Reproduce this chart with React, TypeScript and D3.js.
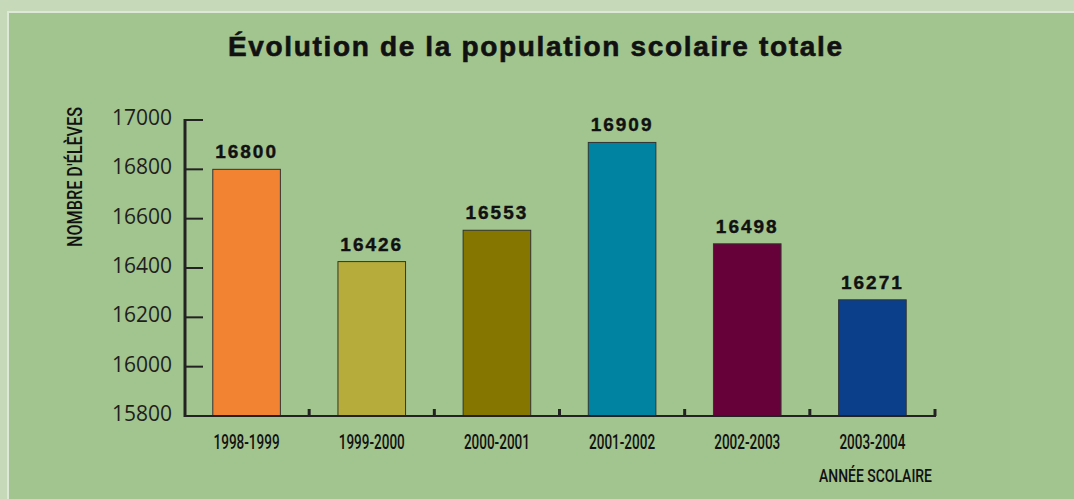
import React, { useEffect, useRef } from "react";
import * as d3 from "d3";

// data
const years = ["1998-1999", "1999-2000", "2000-2001", "2001-2002", "2002-2003", "2003-2004"];
const students = [16800, 16426, 16553, 16909, 16498, 16271];
const barColors = ["#f28332", "#b5ac3c", "#857600", "#0083a0", "#660239", "#0b3f8a"];
const yTicks = [15800, 16000, 16200, 16400, 16600, 16800, 17000];

const W = 1074;
const H = 499;
const condensed = "Roboto, sans-serif";

export default function App() {
  const ref = useRef<SVGSVGElement>(null);

  useEffect(() => {
    const svg = d3.select(ref.current);
    svg.selectAll("*").remove();

    // background with light frame
    svg.append("rect").attr("width", W).attr("height", H).attr("fill", "#c6d9b9");
    svg.append("rect").attr("x", 7).attr("y", 11).attr("width", W).attr("height", H)
      .attr("fill", "#dde9d6");
    svg.append("rect").attr("x", 9).attr("y", 13).attr("width", W).attr("height", H)
      .attr("fill", "#a2c48f");

    const left = 184;
    const right = 935;
    const top = 120;
    const bottom = 416;

    const x = d3.scaleBand().domain(years).range([left, right]).paddingInner(0.46).paddingOuter(0.23);
    const xEdges = d3.scaleLinear().domain([0, years.length]).range([left, right]);
    const y = d3.scaleLinear().domain([15800, 17000]).range([bottom, top]);

    svg.append("text")
      .attr("x", 228).attr("y", 56)
      .attr("font-family", "'Liberation Sans', Arial, sans-serif")
      .attr("font-weight", "bold")
      .attr("font-size", 28)
      .attr("textLength", 614)
      .attr("lengthAdjust", "spacing")
      .attr("stroke", "#111")
      .attr("stroke-width", 0.6)
      .attr("fill", "#111")
      .text("Évolution de la population scolaire totale");

    // bars
    const g = svg.append("g");
    g.selectAll("rect.bar").data(students).enter().append("rect")
      .attr("class", "bar")
      .attr("x", (d, i) => x(years[i])!)
      .attr("y", (d) => y(d))
      .attr("width", x.bandwidth())
      .attr("height", (d) => bottom - y(d))
      .attr("fill", (d, i) => barColors[i])
      .attr("stroke", "#333")
      .attr("stroke-width", 1);

    g.selectAll("text.val").data(students).enter().append("text")
      .attr("class", "val")
      .attr("x", (d, i) => x(years[i])! + x.bandwidth() / 2)
      .attr("y", (d) => y(d) - 11)
      .attr("text-anchor", "middle")
      .attr("font-family", "'Liberation Sans', Arial, sans-serif")
      .attr("font-weight", "bold")
      .attr("font-size", 19)
      .attr("letter-spacing", 2)
      .attr("stroke", "#111")
      .attr("stroke-width", 0.4)
      .attr("fill", "#111")
      .text((d) => d);

    // y axis
    svg.append("line")
      .attr("x1", left + 1).attr("x2", left + 1)
      .attr("y1", top - 1).attr("y2", bottom + 1)
      .attr("stroke", "#222").attr("stroke-width", 3);
    const yt = svg.append("g");
    yt.selectAll("line").data(yTicks).enter().append("line")
      .attr("x1", left).attr("x2", left + 19)
      .attr("y1", (d) => y(d)).attr("y2", (d) => y(d))
      .attr("stroke", "#222").attr("stroke-width", 2);
    yt.selectAll("text").data(yTicks).enter().append("text")
      .attr("x", 172)
      .attr("y", (d) => y(d) + 5)
      .attr("text-anchor", "end")
      .attr("font-family", "'Open Sans', sans-serif")
      .attr("font-size", 22)
      .attr("textLength", 60)
      .attr("lengthAdjust", "spacingAndGlyphs")
      .attr("fill", "#1e1e1e")
      .text((d) => d);

    // x axis
    svg.append("line")
      .attr("x1", left).attr("x2", right + 1)
      .attr("y1", bottom).attr("y2", bottom)
      .attr("stroke", "#222").attr("stroke-width", 2);
    svg.append("g").selectAll("line").data(d3.range(1, years.length + 1)).enter().append("line")
      .attr("x1", (d) => xEdges(d)).attr("x2", (d) => xEdges(d))
      .attr("y1", bottom - 7).attr("y2", bottom)
      .attr("stroke", "#222").attr("stroke-width", 3);
    svg.append("g").selectAll("text").data(years).enter().append("text")
      .attr("x", (d) => x(d)! + x.bandwidth() / 2 - 33)
      .attr("y", 449)
      .attr("font-family", condensed)
      .attr("font-weight", 500)
      .attr("font-size", 20)
      .attr("textLength", 66)
      .attr("lengthAdjust", "spacingAndGlyphs")
      .attr("fill", "#111")
      .text((d) => d);

    svg.append("text")
      .attr("x", 819).attr("y", 482)
      .attr("font-family", condensed)
      .attr("font-weight", 500)
      .attr("font-size", 17.5)
      .attr("textLength", 113)
      .attr("lengthAdjust", "spacingAndGlyphs")
      .attr("fill", "#111")
      .text("ANNÉE SCOLAIRE");

    svg.append("text")
      .attr("transform", "translate(82,247) rotate(-90)")
      .attr("font-family", condensed)
      .attr("font-weight", 500)
      .attr("font-size", 20)
      .attr("textLength", 140)
      .attr("lengthAdjust", "spacingAndGlyphs")
      .attr("fill", "#111")
      .text("NOMBRE D'ÉLÈVES");
  }, []);

  return (
    <div style={{ position: "fixed", left: 0, top: 0 }}>
      <svg ref={ref} width={W} height={H} style={{ display: "block" }} />
    </div>
  );
}
